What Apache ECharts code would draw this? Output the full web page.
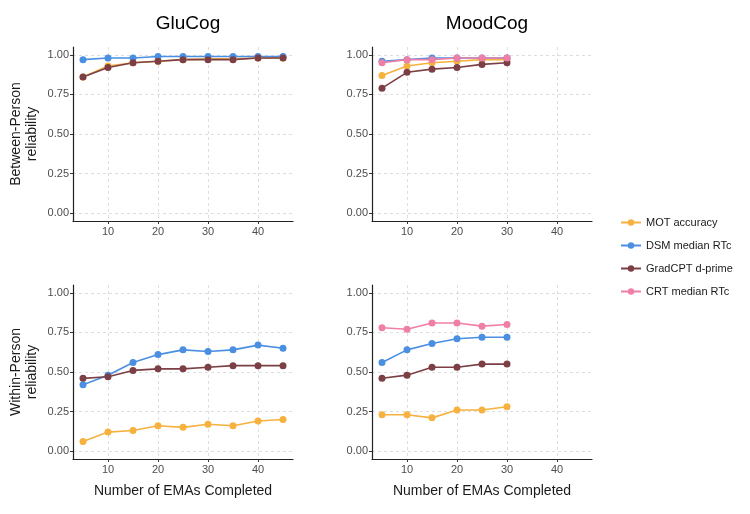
<!DOCTYPE html>
<html><head><meta charset="utf-8">
<script src="https://cdn.jsdelivr.net/npm/echarts@6/dist/echarts.min.js"></script>
<style>html,body{margin:0;padding:0;background:#fff}#c{width:750px;height:514px}</style>
</head><body><div id="c"></div>
<script>
const xTicks = [10, 20, 30, 40];
const yTicks = [0, 0.25, 0.5, 0.75, 1];
const seriesNames = ['MOT accuracy', 'DSM median RTc', 'GradCPT d-prime', 'CRT median RTc'];
const colors = ['#F6B13F', '#4A8FE1', '#7C3F45', '#F07FA8'];
const panelTitles = ['GluCog', 'MoodCog'];
const rowTitles = ['Between-Person\nreliability', 'Within-Person\nreliability'];

const gluX = [5, 10, 15, 20, 25, 30, 35, 40, 45];
const moodX = [5, 10, 15, 20, 25, 30];

// GluCog, between-person
const gluBetweenMOT = [0.86, 0.93, 0.95, 0.96, 0.97, 0.975, 0.975, 0.98, 0.98];
const gluBetweenDSM = [0.97, 0.98, 0.98, 0.99, 0.99, 0.99, 0.99, 0.99, 0.99];
const gluBetweenGrad = [0.86, 0.92, 0.95, 0.96, 0.97, 0.97, 0.97, 0.98, 0.98];
// MoodCog, between-person
const moodBetweenMOT = [0.87, 0.93, 0.95, 0.96, 0.97, 0.97];
const moodBetweenDSM = [0.96, 0.97, 0.98, 0.98, 0.98, 0.98];
const moodBetweenGrad = [0.79, 0.89, 0.91, 0.92, 0.94, 0.95];
const moodBetweenCRT = [0.95, 0.97, 0.97, 0.98, 0.98, 0.98];
// GluCog, within-person
const gluWithinMOT = [0.06, 0.12, 0.13, 0.16, 0.15, 0.17, 0.16, 0.19, 0.20];
const gluWithinDSM = [0.42, 0.48, 0.56, 0.61, 0.64, 0.63, 0.64, 0.67, 0.65];
const gluWithinGrad = [0.46, 0.47, 0.51, 0.52, 0.52, 0.53, 0.54, 0.54, 0.54];
// MoodCog, within-person
const moodWithinMOT = [0.23, 0.23, 0.21, 0.26, 0.26, 0.28];
const moodWithinDSM = [0.56, 0.64, 0.68, 0.71, 0.72, 0.72];
const moodWithinGrad = [0.46, 0.48, 0.53, 0.53, 0.55, 0.55];
const moodWithinCRT = [0.78, 0.77, 0.81, 0.81, 0.79, 0.80];

const panels = [
  {x: gluX, data: [gluBetweenMOT, gluBetweenDSM, gluBetweenGrad, null]},
  {x: moodX, data: [moodBetweenMOT, moodBetweenDSM, moodBetweenGrad, moodBetweenCRT]},
  {x: gluX, data: [gluWithinMOT, gluWithinDSM, gluWithinGrad, null]},
  {x: moodX, data: [moodWithinMOT, moodWithinDSM, moodWithinGrad, moodWithinCRT]}
];

const font = 'Liberation Sans, Arial, sans-serif';
const gridPos = [
  {left: 73, top: 47}, {left: 372, top: 47},
  {left: 73, top: 285}, {left: 372, top: 285}
];
const grids = gridPos.map(p => ({left: p.left, top: p.top, width: 220, height: 174, containLabel: false}));

const xAxes = gridPos.map((p, i) => ({
  type: 'value', gridIndex: i, min: 3, max: 47,
  axisLine: {show: true, onZero: false, lineStyle: {color: '#222', width: 1.2}},
  axisTick: {show: true, customValues: xTicks, length: 3, lineStyle: {color: '#333'}},
  axisLabel: {customValues: xTicks, color: '#4d4d4d', fontSize: 11, fontFamily: font, margin: 5},
  splitLine: {show: true, lineStyle: {color: '#d6d6d6', type: [3, 3], width: 0.8}},
  name: i >= 2 ? 'Number of EMAs Completed' : '',
  nameLocation: 'middle', nameGap: 25,
  nameTextStyle: {color: '#1a1a1a', fontSize: 14, fontFamily: font}
}));

const yAxes = gridPos.map((p, i) => ({
  type: 'value', gridIndex: i, min: -0.05, max: 1.05,
  axisLine: {show: true, onZero: false, lineStyle: {color: '#222', width: 1.2}},
  axisTick: {show: true, customValues: yTicks, length: 3, lineStyle: {color: '#333'}},
  axisLabel: {customValues: yTicks, color: '#4d4d4d', fontSize: 11, fontFamily: font, margin: 4,
    formatter: v => v.toFixed(2)},
  splitLine: {show: true, lineStyle: {color: '#d6d6d6', type: [3, 3], width: 0.8}},
  name: i % 2 === 0 ? rowTitles[Math.floor(i / 2)] : '',
  nameLocation: 'middle', nameGap: 33, nameRotate: 90,
  nameTextStyle: {color: '#1a1a1a', fontSize: 14, fontFamily: font, lineHeight: 16}
}));

const series = [];
panels.forEach((pn, gi) => {
  pn.data.forEach((vals, si) => {
    if (!vals) return;
    series.push({
      name: seriesNames[si], type: 'line', xAxisIndex: gi, yAxisIndex: gi,
      data: pn.x.map((x, k) => [x, vals[k]]),
      symbol: 'circle', symbolSize: 7,
      lineStyle: {width: 1.6, color: colors[si]},
      itemStyle: {color: colors[si]},
      emphasis: {disabled: true}, animation: false
    });
  });
});

const chart = echarts.init(document.getElementById('c'), null, {renderer: 'canvas'});
chart.setOption({
  animation: false,
  backgroundColor: '#fff',
  title: [
    {text: panelTitles[0], left: 183, top: 9, textAlign: 'center', textStyle: {fontSize: 19, fontWeight: 'normal', color: '#000', fontFamily: font}},
    {text: panelTitles[1], left: 482, top: 9, textAlign: 'center', textStyle: {fontSize: 19, fontWeight: 'normal', color: '#000', fontFamily: font}}
  ],
  legend: {
    data: seriesNames, orient: 'vertical', left: 615, top: 212,
    itemWidth: 20, itemHeight: 8, itemGap: 12,
    textStyle: {fontSize: 11, color: '#1a1a1a', fontFamily: font},
    selectedMode: false
  },
  grid: grids, xAxis: xAxes, yAxis: yAxes, series: series
});
</script></body></html>
